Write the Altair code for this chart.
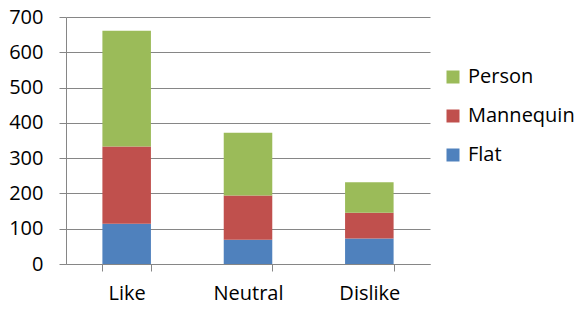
import altair as alt
import pandas as pd

categories = ["Like", "Neutral", "Dislike"]
series = ["Person", "Mannequin", "Flat"]
flat = [114, 69, 72]
mannequin = [219, 125, 73]
person = [328, 178, 87]
colors = ["#9BBB59", "#C0504D", "#4F81BD"]
y_ticks = [0, 100, 200, 300, 400, 500, 600, 700]

rows = []
for i, c in enumerate(categories):
    rows.append({"cat": c, "series": "Flat", "value": flat[i], "order": 0})
    rows.append({"cat": c, "series": "Mannequin", "value": mannequin[i], "order": 1})
    rows.append({"cat": c, "series": "Person", "value": person[i], "order": 2})
df = pd.DataFrame(rows)

FONT = "Open Sans"
FS = 20

chart = alt.Chart(df).mark_bar().encode(
    x=alt.X("cat:N", sort=categories, title=None,
            scale=alt.Scale(paddingInner=0.6, paddingOuter=0.3),
            axis=alt.Axis(labelAngle=0, labelFontSize=FS, labelFont=FONT, labelColor="#000000",
                          labelPadding=12, tickBand="extent", tickSize=7, tickColor="#868686",
                          domainColor="#868686", grid=False)),
    y=alt.Y("value:Q", stack="zero", title=None,
            scale=alt.Scale(domain=[0, 700], nice=False),
            axis=alt.Axis(values=y_ticks, labelFontSize=FS, labelFont=FONT, labelColor="#000000",
                          tickSize=7, tickColor="#868686", domainColor="#868686",
                          gridColor="#868686", labelPadding=16)),
    color=alt.Color("series:N", sort=series,
                    scale=alt.Scale(domain=series, range=colors),
                    legend=alt.Legend(title=None, orient="none", legendX=377, legendY=50,
                                      padding=0,
                                      symbolType="square", symbolSize=169, symbolStrokeWidth=0,
                                      labelFontSize=FS, labelFont=FONT, labelColor="#000000",
                                      rowPadding=19, labelOffset=5)),
    order=alt.Order("order:Q"),
).properties(
    width=364, height=247,
    autosize=alt.AutoSizeParams(type="none"),
    padding={"left": 58, "top": 9, "right": 144, "bottom": 37},
).configure_view(stroke=None).configure_axis(gridWidth=1)

chart.save("out.html", embed_options={"renderer": "svg", "actions": False})
